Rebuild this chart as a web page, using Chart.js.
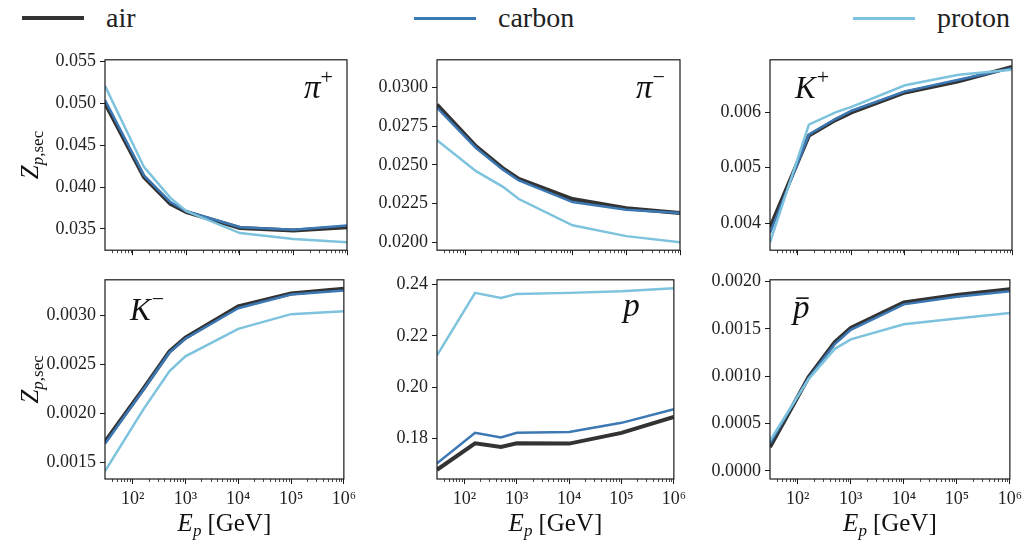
<!DOCTYPE html>
<html>
<head>
<meta charset="utf-8">
<script src="https://cdn.jsdelivr.net/npm/chart.js@4/dist/chart.umd.min.js"></script>
<style>
    body { margin: 0; background: #fff; }
    #wrap { position: relative; width: 1026px; height: 540px; overflow: hidden; font-family: 'Liberation Serif', 'Times New Roman', 'DejaVu Serif', serif; }
    canvas { position: absolute; }
    .leg { position: absolute; top: 0; height: 36px; display: flex; align-items: center; font-size: 28px; color: #222; }
    .leg i { display: inline-block; width: 62px; margin-right: 22px; }
</style>
</head>
<body>
<div id="wrap">
    <div class="leg" style="left:22px"><i style="height:4px;background:#333333"></i>air</div>
    <div class="leg" style="left:414px"><i style="height:3px;background:#3c78b4"></i>carbon</div>
    <div class="leg" style="left:853px"><i style="height:3px;background:#7ec3dd"></i>proton</div>
</div>
<script>
// shared energies (GeV)
const energies = [30, 160, 500, 1e3, 1e4, 1e5, 1e6];
const xMajorTicks = [1e2, 1e3, 1e4, 1e5, 1e6];
const xMinorTicks = [40, 50, 60, 70, 80, 90,
    200, 300, 400, 500, 600, 700, 800, 900,
    2e3, 3e3, 4e3, 5e3, 6e3, 7e3, 8e3, 9e3,
    2e4, 3e4, 4e4, 5e4, 6e4, 7e4, 8e4, 9e4,
    2e5, 3e5, 4e5, 5e5, 6e5, 7e5, 8e5, 9e5];
const xTickLabels = ['10²', '10³', '10⁴', '10⁵', '10⁶'];

const seriesNames = ['air', 'carbon', 'proton'];
const seriesColors = ['#333333', '#3c78b4', '#7ec3dd'];

// pi+
const piPlusAir = [0.0500, 0.0412, 0.0380, 0.0370, 0.0351, 0.0348, 0.0352];
const piPlusCarbon = [0.0504, 0.0414, 0.0382, 0.0371, 0.0352, 0.0349, 0.0354];
const piPlusProton = [0.0521, 0.0424, 0.0387, 0.0371, 0.0345, 0.0338, 0.0334];
const piPlusTicks = [0.035, 0.040, 0.045, 0.050, 0.055];

// pi-
const piMinusAir = [0.0289, 0.0262, 0.0248, 0.0241, 0.0228, 0.0222, 0.0219];
const piMinusCarbon = [0.0287, 0.0261, 0.0247, 0.0240, 0.0226, 0.0221, 0.0219];
const piMinusProton = [0.0266, 0.0246, 0.0236, 0.0228, 0.0211, 0.0204, 0.0200];
const piMinusTicks = [0.0200, 0.0225, 0.0250, 0.0275, 0.0300];

// K+
const kPlusAir = [0.00392, 0.00558, 0.00586, 0.00600, 0.00636, 0.00656, 0.00682];
const kPlusCarbon = [0.00382, 0.00560, 0.00588, 0.00603, 0.00638, 0.00659, 0.00680];
const kPlusProton = [0.00365, 0.00578, 0.00600, 0.00610, 0.00649, 0.00668, 0.00677];
const kPlusTicks = [0.004, 0.005, 0.006];

// K-
const kMinusAir = [0.00171, 0.00225, 0.00263, 0.00277, 0.00309, 0.00322, 0.00327];
const kMinusCarbon = [0.00169, 0.00224, 0.00262, 0.00276, 0.00307, 0.00321, 0.00325];
const kMinusProton = [0.00141, 0.00204, 0.00243, 0.00258, 0.00286, 0.00301, 0.00304];
const kMinusTicks = [0.0015, 0.0020, 0.0025, 0.0030];

// p
const protonAir = [0.1678, 0.1781, 0.1767, 0.1781, 0.1780, 0.1822, 0.1884];
const protonCarbon = [0.1703, 0.1822, 0.1804, 0.1822, 0.1825, 0.1861, 0.1914];
const protonProton = [0.2124, 0.2368, 0.2348, 0.2364, 0.2368, 0.2374, 0.2386];
const protonTicks = [0.18, 0.20, 0.22, 0.24];

// pbar
const pbarAir = [0.00025, 0.00099, 0.00136, 0.00151, 0.00178, 0.00186, 0.00192];
const pbarCarbon = [0.00029, 0.00098, 0.00134, 0.00149, 0.00176, 0.00184, 0.00190];
const pbarProton = [0.00032, 0.00097, 0.00129, 0.00139, 0.00155, 0.00161, 0.00167];
const pbarTicks = [0.0000, 0.0005, 0.0010, 0.0015, 0.0020];

const SERIF = "'Liberation Serif', 'Times New Roman', 'DejaVu Serif', serif";

// text with sub/superscript pieces: [{t, size, italic, dy}]
function drawPieces(ctx, pieces, x, y, align) {
    let total = 0;
    pieces.forEach(p => {
        ctx.font = (p.italic ? 'italic ' : '') + p.size + 'px ' + SERIF;
        p.w = ctx.measureText(p.t).width;
        total += p.w + (p.gap || 0);
    });
    let cx = align === 'right' ? x - total : align === 'center' ? x - total / 2 : x;
    ctx.textAlign = 'left';
    ctx.textBaseline = 'alphabetic';
    pieces.forEach(p => {
        ctx.font = (p.italic ? 'italic ' : '') + p.size + 'px ' + SERIF;
        ctx.fillText(p.t, cx, y + (p.dy || 0));
        if (p.bar) {
            ctx.fillRect(cx + p.w * 0.2, y - p.size * 0.62, p.w * 0.75, 1.6);
        }
        cx += p.w + (p.gap || 0);
    });
}

const framePlugin = {
    id: 'frame',
    afterDraw(chart, args, opts) {
        const ctx = chart.ctx;
        const a = chart.chartArea;
        ctx.save();
        ctx.strokeStyle = '#1a1a1a';
        ctx.lineWidth = 1.2;
        ctx.strokeRect(a.left, a.top, a.right - a.left, a.bottom - a.top);
        // minor ticks on the log axis
        const xs = chart.scales.x;
        ctx.lineWidth = 0.8;
        ctx.beginPath();
        xMinorTicks.forEach(v => {
            const px = Math.round(xs.getPixelForValue(v)) + 0.5;
            ctx.moveTo(px, a.bottom);
            ctx.lineTo(px, a.bottom + 3);
        });
        ctx.stroke();
        ctx.fillStyle = '#111';
        const lab = opts.label;
        const lx = lab.align === 'right' ? a.right - lab.dx : a.left + lab.dx;
        drawPieces(ctx, lab.pieces, lx, a.top + lab.dy, lab.align);
        if (opts.yTitle) {
            ctx.save();
            ctx.translate(30, (a.top + a.bottom) / 2);
            ctx.rotate(-Math.PI / 2);
            drawPieces(ctx, [
                { t: 'Z', size: 25, italic: true },
                { t: 'p', size: 17, italic: true, dy: 5 },
                { t: ',sec', size: 17, dy: 5 }
            ], 0, 8, 'center');
            ctx.restore();
        }
        if (opts.xTitle) {
            drawPieces(ctx, [
                { t: 'E', size: 25, italic: true },
                { t: 'p', size: 17, italic: true, dy: 5, gap: 6 },
                { t: '[GeV]', size: 25 }
            ], (a.left + a.right) / 2, a.bottom + 52, 'center');
        }
        ctx.restore();
    }
};

function makePanel(cfg) {
    const canvas = document.createElement('canvas');
    canvas.width = cfg.w;
    canvas.height = cfg.h;
    canvas.style.left = cfg.left + 'px';
    canvas.style.top = cfg.top + 'px';
    document.getElementById('wrap').appendChild(canvas);

    const datasets = cfg.series.map((vals, i) => ({
        label: seriesNames[i],
        data: energies.map((e, j) => ({ x: e, y: vals[j] })),
        borderColor: seriesColors[i],
        borderWidth: i === 0 ? 4 : 2.5,
        pointRadius: 0,
        tension: 0,
        fill: false,
        order: 2 - i
    }));

    new Chart(canvas, {
        type: 'line',
        data: { datasets },
        options: {
            responsive: false,
            animation: false,
            devicePixelRatio: 1,
            layout: { padding: { top: cfg.padTop, right: cfg.padRight, left: 0, bottom: 0 } },
            plugins: {
                legend: { display: false },
                tooltip: { enabled: false },
                frame: { label: cfg.label, yTitle: cfg.yTitle, xTitle: cfg.xLabels }
            },
            scales: {
                x: {
                    type: 'logarithmic',
                    min: 30,
                    max: 1e6,
                    afterBuildTicks: s => { s.ticks = xMajorTicks.map(v => ({ value: v, major: true })); },
                    afterFit: s => { s.height = cfg.xH; },
                    ticks: {
                        display: cfg.xLabels,
                        autoSkip: false,
                        maxRotation: 0,
                        padding: 4,
                        color: '#222',
                        font: { family: SERIF, size: 18 },
                        callback: (v) => xTickLabels[xMajorTicks.indexOf(v)] || ''
                    },
                    grid: { drawOnChartArea: false, drawTicks: true, tickLength: 5, color: '#1a1a1a', tickWidth: 1 },
                    border: { display: false }
                },
                y: {
                    type: 'linear',
                    min: cfg.yMin,
                    max: cfg.yMax,
                    afterBuildTicks: s => { s.ticks = cfg.yTicks.map(v => ({ value: v })); },
                    afterFit: s => { s.width = cfg.yW; },
                    ticks: {
                        padding: 4,
                        color: '#222',
                        font: { family: SERIF, size: 18 },
                        callback: v => v.toFixed(cfg.dec)
                    },
                    grid: { drawOnChartArea: false, drawTicks: true, tickLength: 5, color: '#1a1a1a', tickWidth: 1 },
                    border: { display: false }
                }
            }
        },
        plugins: [framePlugin]
    });
}

const colGeom = [
    { left: 0, w: 360, yW: 105, padRight: 13 },
    { left: 360, w: 330, yW: 77, padRight: 10 },
    { left: 690, w: 336, yW: 80, padRight: 14 }
];
const rowGeom = [
    { top: 45, h: 220, padTop: 10, xH: 11, xLabels: false },
    { top: 265, h: 275, padTop: 14, xH: 61, xLabels: true }
];

const panels = [
    { r: 0, c: 0, series: [piPlusAir, piPlusCarbon, piPlusProton], yTicks: piPlusTicks, yMin: 0.03245, yMax: 0.0552, dec: 3,
      label: { align: 'right', dx: 14, dy: 38, pieces: [{ t: 'π', size: 33, italic: true }, { t: '+', size: 22, dy: -14 }] } },
    { r: 0, c: 1, series: [piMinusAir, piMinusCarbon, piMinusProton], yTicks: piMinusTicks, yMin: 0.01949, yMax: 0.0318, dec: 4,
      label: { align: 'right', dx: 15, dy: 38, pieces: [{ t: 'π', size: 33, italic: true }, { t: '−', size: 22, dy: -14 }] } },
    { r: 0, c: 2, series: [kPlusAir, kPlusCarbon, kPlusProton], yTicks: kPlusTicks, yMin: 0.00351, yMax: 0.00695, dec: 3,
      label: { align: 'left', dx: 25, dy: 38, pieces: [{ t: 'K', size: 31, italic: true, gap: 1 }, { t: '+', size: 22, dy: -14 }] } },
    { r: 1, c: 0, series: [kMinusAir, kMinusCarbon, kMinusProton], yTicks: kMinusTicks, yMin: 0.00133, yMax: 0.00336, dec: 4,
      label: { align: 'left', dx: 25, dy: 40, pieces: [{ t: 'K', size: 31, italic: true, gap: 1 }, { t: '−', size: 22, dy: -14 }] } },
    { r: 1, c: 1, series: [protonAir, protonCarbon, protonProton], yTicks: protonTicks, yMin: 0.1642, yMax: 0.2419, dec: 2,
      label: { align: 'right', dx: 34, dy: 36, pieces: [{ t: 'p', size: 33, italic: true }] } },
    { r: 1, c: 2, series: [pbarAir, pbarCarbon, pbarProton], yTicks: pbarTicks, yMin: -0.000087, yMax: 0.00202, dec: 4,
      label: { align: 'left', dx: 23, dy: 38, pieces: [{ t: 'p', size: 33, italic: true, bar: true }] } }
];

panels.forEach(p => {
    const c = colGeom[p.c];
    const r = rowGeom[p.r];
    makePanel({
        left: c.left, w: c.w, yW: c.yW, padRight: c.padRight,
        top: r.top, h: r.h, padTop: r.padTop, xH: r.xH, xLabels: r.xLabels,
        yTitle: p.c === 0,
        series: p.series, yTicks: p.yTicks, yMin: p.yMin, yMax: p.yMax, dec: p.dec,
        label: p.label
    });
});
</script>
</body>
</html>
